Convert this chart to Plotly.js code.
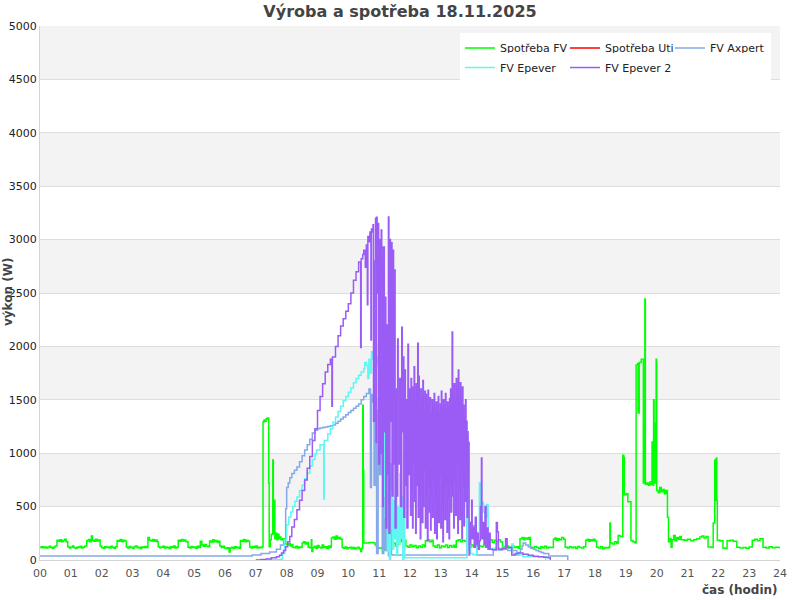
<!DOCTYPE html>
<html><head><meta charset="utf-8">
<script src="https://cdn.plot.ly/plotly-3.0.1.min.js"></script>
<style>html,body{margin:0;padding:0;background:#fff}</style>
</head><body><div id="chart" style="width:800px;height:600px"></div>
<script>
// [minute of day, watts]
const spotrebaFV = [[0,118],[3,125],[6,115],[9,122],[12,112],[15,120],[18,128],[21,118],[24,110],[27,122],[30,130],
[33,185],[36,175],[39,190],[42,170],[45,182],[48,195],[51,172],
[54,125],[57,112],[60,120],[63,130],[66,115],[69,108],[72,122],[75,118],[78,128],[81,112],[84,120],[87,132],
[91,180],[94,192],[97,170],[100,225],[102,185],[105,175],[108,195],[111,178],[114,188],
[117,130],[120,118],[123,110],[126,125],[129,116],[132,122],[135,112],[138,128],[141,118],[144,110],[147,124],
[150,182],[153,176],[156,192],[159,172],[162,185],[165,178],
[168,122],[171,112],[174,126],[177,118],[180,110],[183,124],[186,130],[189,115],[192,120],[195,108],[198,122],[201,116],[204,126],[207,118],
[210,210],[213,185],[216,178],[219,192],[222,175],[225,188],[228,172],
[230,125],[233,114],[236,120],[239,128],[242,112],[245,122],[248,116],[251,108],[254,124],[257,118],[260,130],[263,112],[266,120],
[269,185],[272,175],[275,192],[278,178],[281,188],[284,172],
[288,120],[291,112],[294,126],[297,116],[300,122],[303,110],[306,128],[309,118],
[312,175],[315,140],[318,128],[321,145],[324,132],[327,125],
[330,178],[333,168],[336,190],[339,172],[342,182],[345,165],[348,176],
[350,132],[353,118],[356,128],[359,112],
[362,108],[365,115],[368,75],[370,112],[373,120],[376,108],[379,125],[382,114],[385,120],[388,110],
[390,182],[393,176],[396,192],[399,170],[402,186],[405,175],
[408,122],[411,112],[414,126],[417,118],[420,130],[423,112],[426,120],[429,115],[432,125],
[434,1295],[436,1310],[438,1300],[440,1320],[442,1330],[445,720],[446,125],[448,190],[450,240],[453,936],[454,250],[456,560],[457,200],[459,250],[461,190],[463,240],[465,200],[467,215],[469,190],[472,200],[475,185],[478,150],[481,140],[484,155],[487,130],[490,145],[492,120],[495,115],[498,128],[501,112],[504,122],[507,118],
[510,160],[513,170],[516,150],[519,165],[522,120],[525,115],[528,190],[529,80],[531,118],[534,128],[537,110],[540,135],[543,120],[546,112],[549,140],[552,118],[555,125],[558,110],[561,130],[564,116],
[567,205],[570,215],[573,195],[576,225],[579,200],[582,210],[585,195],[588,118],[591,110],[594,122],[597,105],[600,115],[603,120],[606,108],[609,118],[612,102],[615,112],[618,120],[621,105],[624,80],[626,112],[628,1450],[629,840],[630,160],[640,165],[650,160],[652,140],[655,115],[660,110],[665,118],[670,105],[675,112],[680,100],[684,120],[688,160],[692,130],[696,150],[700,190],[704,170],[708,185],[712,130],[716,120],[720,140],[724,125],[728,135],[732,115],[736,130],[740,120],[744,140],[748,125],
[750,180],[754,190],[758,170],[762,185],[765,130],[769,120],[773,140],[777,115],[781,130],[785,125],[789,140],[793,118],[797,135],[801,122],[805,138],[808,120],
[810,180],[814,190],[818,170],[822,185],[826,175],[831,130],[835,120],[839,140],[843,125],[847,135],[851,115],[855,130],[859,125],[863,140],[867,120],
[872,180],[876,190],[880,165],[884,185],[888,175],[892,190],[896,170],[900,125],[904,115],[908,130],[912,120],[916,112],[920,128],[924,118],[928,125],[931,110],
[934,200],[938,210],[941,190],[944,205],[948,195],[951,210],[954,120],[958,112],[962,126],[966,118],[970,108],[974,124],[978,115],[982,128],[986,112],[990,120],[994,118],
[999,195],[1002,205],[1005,185],[1008,200],[1011,190],[1015,210],[1019,195],[1022,120],[1026,112],[1030,125],[1034,115],[1038,122],[1042,110],[1046,126],[1050,118],[1054,112],[1058,124],
[1062,185],[1065,195],[1068,175],[1071,190],[1074,180],[1077,195],[1080,178],[1083,120],[1087,112],[1091,125],[1095,108],[1099,118],[1103,112],[1107,122],
[1109,346],[1110,160],[1114,150],[1118,170],[1122,155],[1125,230],[1129,220],[1134,980],[1136,960],[1137,610],[1141,620],[1144,545],[1150,180],[1154,170],[1158,160],
[1160,1826],[1163,1840],[1164,1376],[1166,1850],[1170,1880],[1174,720],[1175,1280],[1176,720],[1177,2444],[1178,710],[1181,720],[1184,700],[1187,730],[1190,710],[1191,1105],[1193,700],[1194,1500],[1195,720],[1198,1280],[1199,1880],
[1200,650],[1203,630],[1206,680],[1209,640],[1212,660],[1215,620],[1218,650],[1221,400],[1223,170],[1225,200],[1228,120],[1230,190],[1233,230],[1236,180],[1239,210],[1242,195],[1245,220],[1248,190],[1254,185],[1260,195],[1266,180],[1272,190],[1278,200],
[1284,215],[1288,225],[1292,205],[1296,220],[1300,122],[1306,118],[1310,346],[1313,936],[1314,560],[1316,955],[1317,560],[1318,185],[1323,180],[1329,112],[1333,108],[1337,180],[1343,185],[1349,175],
[1356,120],[1362,112],[1368,118],[1374,110],[1380,122],[1386,185],[1391,195],[1396,180],[1401,200],[1407,120],[1413,112],[1419,125],[1425,115],[1431,120],[1437,118],[1440,118]];

const spotrebaUti = [];

const fvAxpert = [[0,37],[413,47],[430,60],[447,75],[460,100],[468,140],[474,190],[478,480],[480,680],[483,720],[486,770],[490,810],[495,840],[500,870],[505,920],[510,975],[515,1030],[520,1080],[525,1130],[530,1190],[535,1215],[540,1230],[545,1235],[550,1240],[555,1245],[560,1250],[565,1258],[570,1265],[575,1280],[580,1300],[585,1320],[590,1340],[595,1360],[600,1380],[605,1400],[610,1420],[615,1440],[620,1460],[625,1500],[630,1530],[635,1560],[640,1600],[643,680],[645,1550],[647,1480],[650,700],[652,1500],[655,60],[658,1400],[661,800],[663,1450],[666,60],[669,1350],[672,90],[675,1100],[678,40],[681,900],[684,50],[687,47],
[831,1130],[833,300],[835,350],[838,250],[840,280],[843,320],[846,260],[850,47],[882,94],[888,160],[892,94],[900,100],[910,90],[928,47],[932,70],[935,100],[938,130],[940,160],[945,140],[950,125],[955,110],[960,100],[965,90],[970,80],[975,70],[980,60],[990,37],[1027,0]];

const fvEpever = [[420,0],[440,5],[470,10],[472,60],[476,190],[480,330],[484,400],[488,450],[492,500],[496,550],[500,590],[505,650],[510,700],[515,760],[520,815],[525,880],[530,940],[535,990],[538,1030],[545,1080],[552,570],[553,1120],[560,1180],[565,1230],[570,1290],[575,1340],[580,1390],[585,1440],[590,1490],[595,1530],[600,1570],[605,1610],[610,1660],[615,1700],[620,1730],[625,1760],[630,1790],[632,1850],[635,1820],[638,1700],[640,1880],[643,1750],[645,1950],[648,1880],[650,1960],[652,1800],[655,1900],[658,1840],[660,1540],[662,1700],[664,1250],[666,1550],[668,600],[670,1300],[672,400],[674,1200],[676,80],[678,500],[680,0],[682,300],[684,650],[686,100],[688,560],[690,200],[692,700],[694,50],[696,500],[698,150],[700,810],[702,200],[704,600],[706,0],[708,400],[710,20],
[831,720],[833,100],[835,300],[838,60],[842,50],[850,120],[855,720],[857,300],[860,540],[863,450],[866,400],[869,520],[872,100],[880,110],[900,120],[910,115],[918,150],[921,47],[940,30],[984,0]];

const fvEpever2 = [[420,0],[430,5],[440,10],[450,20],[460,30],[466,45],[470,65],[474,90],[478,125],[482,170],[486,220],[490,310],[495,380],[500,470],[505,560],[510,650],[515,750],[520,860],[525,970],[530,1120],[535,1230],[540,1400],[545,1530],[550,1650],[555,1760],[560,1830],[565,1880],[568,1440],[569,1900],[575,2000],[580,2100],[585,2190],[590,2260],[595,2330],[600,2400],[605,2500],[610,2620],[615,2700],[620,2790],[624,1990],[625,2820],[628,2860],[630,2900],[633,2740],[635,2950],[637,2390],[638,3030],[640,2980],[642,3070],[644,2060],[645,3100],[646,3070],[648,3140],[649,1300],[651,2800],[653,3200],[654,1100],[655,3210],[656,2500],[658,3150],[659,900],[661,3000],[662,1000],[664,3090],[665,2800],[667,500],[668,2930],[670,1200],[671,2460],[673,300],[675,2200],[676,800],[678,3212],[679,250],[681,3000],[682,1300],[684,2970],[685,600],[687,2900],[688,900],[690,2715],[691,300],[693,1600],[694,600],[696,2070],[697,1500],[699,900],[700,1700],[702,500],[704,2180],[705,1200],[706,1900],[708,400],[710,1780],[711,700],[713,1500],[714,300],[716,2020],[717,800],[719,1600],
[720,1550],[721,420],[722,1700],[723,650],[724,1480],[725,300],[726,1620],[727,900],[728,1810],[729,550],[730,1500],[731,250],[732,1650],[733,700],[734,1580],[735,2030],[736,400],[737,1720],[738,600],[739,1450],[740,200],[741,1600],[742,750],[743,1520],[744,350],[745,1680],[746,500],[747,1400],[748,850],[749,1580],[750,300],[751,1550],[752,600],[753,1470],[754,180],[755,1590],[756,700],[757,1420],[758,450],[759,1520],[760,280],[761,1380],[762,620],[763,1500],[764,400],[765,1450],[766,750],[767,1560],[768,250],[769,1400],[770,550],[771,1480],[772,200],[773,1420],[774,680],[775,1530],[776,350],[777,1390],[778,800],[779,1460],[780,300],[781,1580],[782,500],[783,1410],[784,170],[785,1500],[786,650],[787,1440],[788,380],[789,1560],[790,720],[791,1400],[792,260],[793,1480],[794,590],[795,1430],[796,200],[797,1510],[798,700],[799,1600],[800,450],[801,1380],[802,2135],[803,600],[804,1550],[805,300],[806,1650],[807,750],[808,1500],[809,420],[810,1700],[811,900],[812,1620],[813,250],[814,1780],[815,650],[816,1550],[817,380],[818,1660],[819,800],[820,1500],[821,200],[822,1620],[823,700],[824,1450],[825,320],[826,1357],[827,550],[828,1500],[829,850],[830,1300],[831,400],[832,1200],[833,700],[834,1100],[835,47],
[836,150],[838,350],[840,560],[841,200],[843,300],[845,120],[847,400],[849,150],[851,250],[853,100],[855,180],[857,500],[859,955],[860,200],[862,350],[864,150],[866,500],[868,120],[870,300],[872,100],[874,250],[876,100],[880,95],[888,350],[890,265],[892,100],[900,110],[906,200],[909,115],[915,120],[918,47],[925,60],[930,65],[940,55],[950,45],[960,35],[970,30],[980,25],[988,20],[993,0]];

const seriesNames = ['Spotřeba FV','Spotřeba Uti','FV Axpert','FV Epever','FV Epever 2'];
const hourLabels = ['00','01','02','03','04','05','06','07','08','09','10','11','12','13','14','15','16','17','18','19','20','21','22','23','24'];
const bandStarts = [500,1500,2500,3500,4500];

const allSeries = [spotrebaFV, spotrebaUti, fvAxpert, fvEpever, fvEpever2];
const colors = ['#00ff00','#ff0000','#85a9e8','#5ff7f0','#9b5cf6'];
const legendOf = ['legend','legend','legend','legend2','legend2'];
const entryWidths = [60,60,56,60,161];
const F = 'DejaVu Sans, Verdana, sans-serif';

const traces = allSeries.map((s,i)=>({
  type:'scatter', mode:'lines', name:seriesNames[i],
  x: s.length ? s.map(p=>p[0]/60) : [null],
  y: s.length ? s.map(p=>p[1]) : [null],
  line:{color:colors[i], width:1.5, shape:'hv'},
  legend: legendOf[i], legendwidth: entryWidths[i], showlegend:true, hoverinfo:'skip'
}));

const shapes = bandStarts.map(b=>({type:'rect', xref:'paper', yref:'y', x0:0, x1:1, y0:b, y1:b+500,
  fillcolor:'#f3f3f3', line:{width:0}, layer:'below'}));

const legendBase = {orientation:'h', bgcolor:'#ffffff', borderwidth:0, xanchor:'left', yanchor:'top',
  entrywidth:60, entrywidthmode:'pixels', font:{family:F, size:11, color:'#222'}, itemclick:false, itemdoubleclick:false};

const layout = {
  width:800, height:600,
  margin:{l:40, r:20, t:26, b:40},
  paper_bgcolor:'#ffffff', plot_bgcolor:'#ffffff',
  title:{text:'<b>Výroba a spotřeba 18.11.2025</b>', font:{family:F, size:16, color:'#444'}, x:0.5, xanchor:'center', y:0.99, yanchor:'top', yref:'container'},
  xaxis:{range:[0,24], tickvals:hourLabels.map(h=>+h), ticktext:hourLabels, showgrid:false, zeroline:false, showline:true, linecolor:'#d4d4d4', linewidth:1, ticks:'', ticklabelstandoff:3, tickfont:{family:F, size:11, color:'#555'}, fixedrange:true},
  yaxis:{range:[0,5000], dtick:500, tick0:0, showgrid:true, gridcolor:'#dddddd', gridwidth:1, zeroline:false, showline:true, linecolor:'#d4d4d4', linewidth:1, ticks:'', tickfont:{family:F, size:11, color:'#222'}, fixedrange:true},
  shapes: shapes,
  showlegend:true,
  legend: Object.assign({}, legendBase, {x:0.5675, y:0.986}),
  legend2: Object.assign({}, legendBase, {x:0.5675, y:0.9494}),
  annotations:[
    {text:'<b>výkon (W)</b>', xref:'paper', yref:'paper', x:-0.043, y:0.502, xanchor:'center', yanchor:'middle', textangle:-90, showarrow:false, font:{family:F, size:12, color:'#444'}},
    {text:'<b>čas (hodin)</b>', xref:'paper', yref:'paper', x:1, y:-0.056, xanchor:'right', yanchor:'middle', showarrow:false, font:{family:F, size:12, color:'#444'}}
  ]
};

Plotly.newPlot('chart', traces, layout, {displayModeBar:false, staticPlot:true});
</script></body></html>
